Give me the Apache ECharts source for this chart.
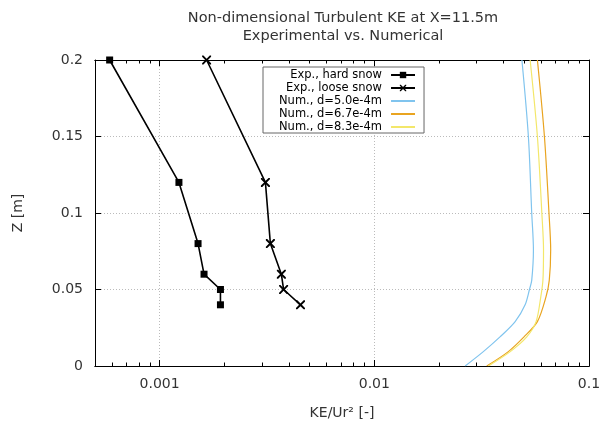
<!DOCTYPE html>
<html><head><meta charset="utf-8">
<script src="https://cdn.jsdelivr.net/npm/echarts@6/dist/echarts.min.js"></script>
<style>html,body{margin:0;padding:0;background:#fff}#c{width:604px;height:426px}</style>
</head><body><div id="c"></div>
<script>
const seriesNames = ['Exp., hard snow','Exp., loose snow','Num., d=5.0e-4m','Num., d=6.7e-4m','Num., d=8.3e-4m'];
const hardSnow = [[5.85e-4,0.2],[1.23e-3,0.12],[1.51e-3,0.08],[1.61e-3,0.06],[1.92e-3,0.05],[1.92e-3,0.04]];
const looseSnow = [[1.655e-3,0.2],[3.11e-3,0.12],[3.28e-3,0.08],[3.69e-3,0.06],[3.78e-3,0.05],[4.53e-3,0.04]];
const num50 = [[0.0487,0.2],[0.0522,0.15],[0.0541,0.1],[0.0551,0.076],[0.0541,0.056],[0.0528,0.05],[0.0504,0.04],[0.0453,0.029],[0.0385,0.019],[0.0322,0.0094],[0.0265,0]];
const num67 = [[0.0575,0.2],[0.062,0.15],[0.0651,0.1],[0.0663,0.076],[0.0653,0.056],[0.063,0.045],[0.0575,0.029],[0.0498,0.019],[0.0421,0.0094],[0.0334,0]];
const num83 = [[0.0532,0.2],[0.0575,0.15],[0.0603,0.1],[0.0614,0.076],[0.061,0.056],[0.0596,0.045],[0.0567,0.029],[0.0513,0.019],[0.043,0.0094],[0.034,0]];
const xMajorTicks = [0.001, 0.01, 0.1];
const xMinorTicks = [6e-4,7e-4,8e-4,9e-4,2e-3,3e-3,4e-3,5e-3,6e-3,7e-3,8e-3,9e-3,2e-2,3e-2,4e-2,5e-2,6e-2,7e-2,8e-2,9e-2];

const font = 'DejaVu Sans';
const xMin = 0.0005, xMax = 0.1;
const cross = 'path://M0,0 L1.5,0 L5,3.5 L8.5,0 L10,0 L10,1.5 L6.5,5 L10,8.5 L10,10 L8.5,10 L5,6.5 L1.5,10 L0,10 L0,8.5 L3.5,5 L0,1.5 Z';

function xAxisBase(pos, ticks, len, labels, split) {
  return {
    type: 'log', logBase: 10, min: xMin, max: xMax, position: pos,
    axisLine: {show: true, onZero: false, lineStyle: {color: '#000', width: 1}},
    axisTick: {show: true, inside: true, length: len, customValues: ticks, lineStyle: {color: '#000', width: 1}},
    axisLabel: labels ? {show: true, customValues: xMajorTicks, color: '#333', fontFamily: font, fontSize: 14, margin: 11,
      formatter: v => String(+(+v).toPrecision(3))} : {show: false},
    splitLine: {show: split, lineStyle: {color: '#bbb', type: [1, 2], width: 1}},
    minorTick: {show: false}
  };
}

const chart = echarts.init(document.getElementById('c'), null, {renderer: 'canvas'});
chart.setOption({
  animation: false,
  backgroundColor: '#fff',
  title: {
    text: 'Non-dimensional Turbulent KE at X=11.5m\nExperimental vs. Numerical',
    left: 338, top: 4, textAlign: 'center',
    textStyle: {fontFamily: font, fontSize: 14.5, fontWeight: 'normal', color: '#333', lineHeight: 18}
  },
  grid: {left: 95, right: 15, top: 60, bottom: 60, show: false},
  legend: {
    data: [
      {name: seriesNames[0]},
      {name: seriesNames[1]},
      {name: seriesNames[2], itemStyle: {opacity: 0}},
      {name: seriesNames[3], itemStyle: {opacity: 0}},
      {name: seriesNames[4], itemStyle: {opacity: 0}}
    ],
    orient: 'vertical', left: 263, top: 67,
    align: 'right',
    itemWidth: 24, itemHeight: 8, itemGap: 1,
    padding: [2, 8, 0, 16],
    borderColor: '#666', borderWidth: 1, backgroundColor: '#fff',
    textStyle: {fontFamily: font, fontSize: 11.5, color: '#000', width: 116, align: 'right', padding: [0, 4, 0, 0]}
  },
  xAxis: [
    Object.assign(xAxisBase('bottom', xMajorTicks, 6, true, true), {
      name: 'KE/Ur² [-]', nameLocation: 'middle', nameGap: 40,
      nameTextStyle: {fontFamily: font, fontSize: 14, color: '#333'}
    }),
    xAxisBase('top', xMajorTicks, 6, false, false),
    xAxisBase('bottom', xMinorTicks, 3.5, false, false),
    xAxisBase('top', xMinorTicks, 3.5, false, false)
  ],
  yAxis: [
    {
      type: 'value', min: 0, max: 0.2, interval: 0.05, position: 'left',
      name: 'Z [m]', nameLocation: 'middle', nameGap: 70,
      nameTextStyle: {fontFamily: font, fontSize: 14, color: '#333'},
      axisLine: {show: true, onZero: false, lineStyle: {color: '#000'}},
      axisTick: {show: true, inside: true, length: 6, lineStyle: {color: '#000'}},
      axisLabel: {color: '#333', fontFamily: font, fontSize: 14, margin: 12, formatter: v => String(+v.toFixed(3))},
      splitLine: {show: true, lineStyle: {color: '#bbb', type: [1, 2], width: 1}}
    },
    {
      type: 'value', min: 0, max: 0.2, interval: 0.05, position: 'right',
      axisLine: {show: true, onZero: false, lineStyle: {color: '#000'}},
      axisTick: {show: true, inside: true, length: 6, lineStyle: {color: '#000'}},
      axisLabel: {show: false}, splitLine: {show: false}
    }
  ],
  series: [
    {name: seriesNames[0], type: 'line', data: hardSnow, symbol: 'rect', symbolSize: 7,
      lineStyle: {color: '#000', width: 1.6}, itemStyle: {color: '#000'}, z: 5},
    {name: seriesNames[1], type: 'line', data: looseSnow, symbol: cross, symbolSize: 9,
      lineStyle: {color: '#000', width: 1.6}, itemStyle: {color: '#000'}, z: 5},
    {name: seriesNames[2], type: 'line', data: num50, symbol: 'none', smooth: 0.3,
      lineStyle: {color: '#80c4ee', width: 1.2}, itemStyle: {color: '#80c4ee'}},
    {name: seriesNames[3], type: 'line', data: num67, symbol: 'none', smooth: 0.3,
      lineStyle: {color: '#e9a420', width: 1.2}, itemStyle: {color: '#e9a420'}},
    {name: seriesNames[4], type: 'line', data: num83, symbol: 'none', smooth: 0.3,
      lineStyle: {color: '#f3e76a', width: 1.2}, itemStyle: {color: '#f3e76a'}}
  ]
});
</script></body></html>
